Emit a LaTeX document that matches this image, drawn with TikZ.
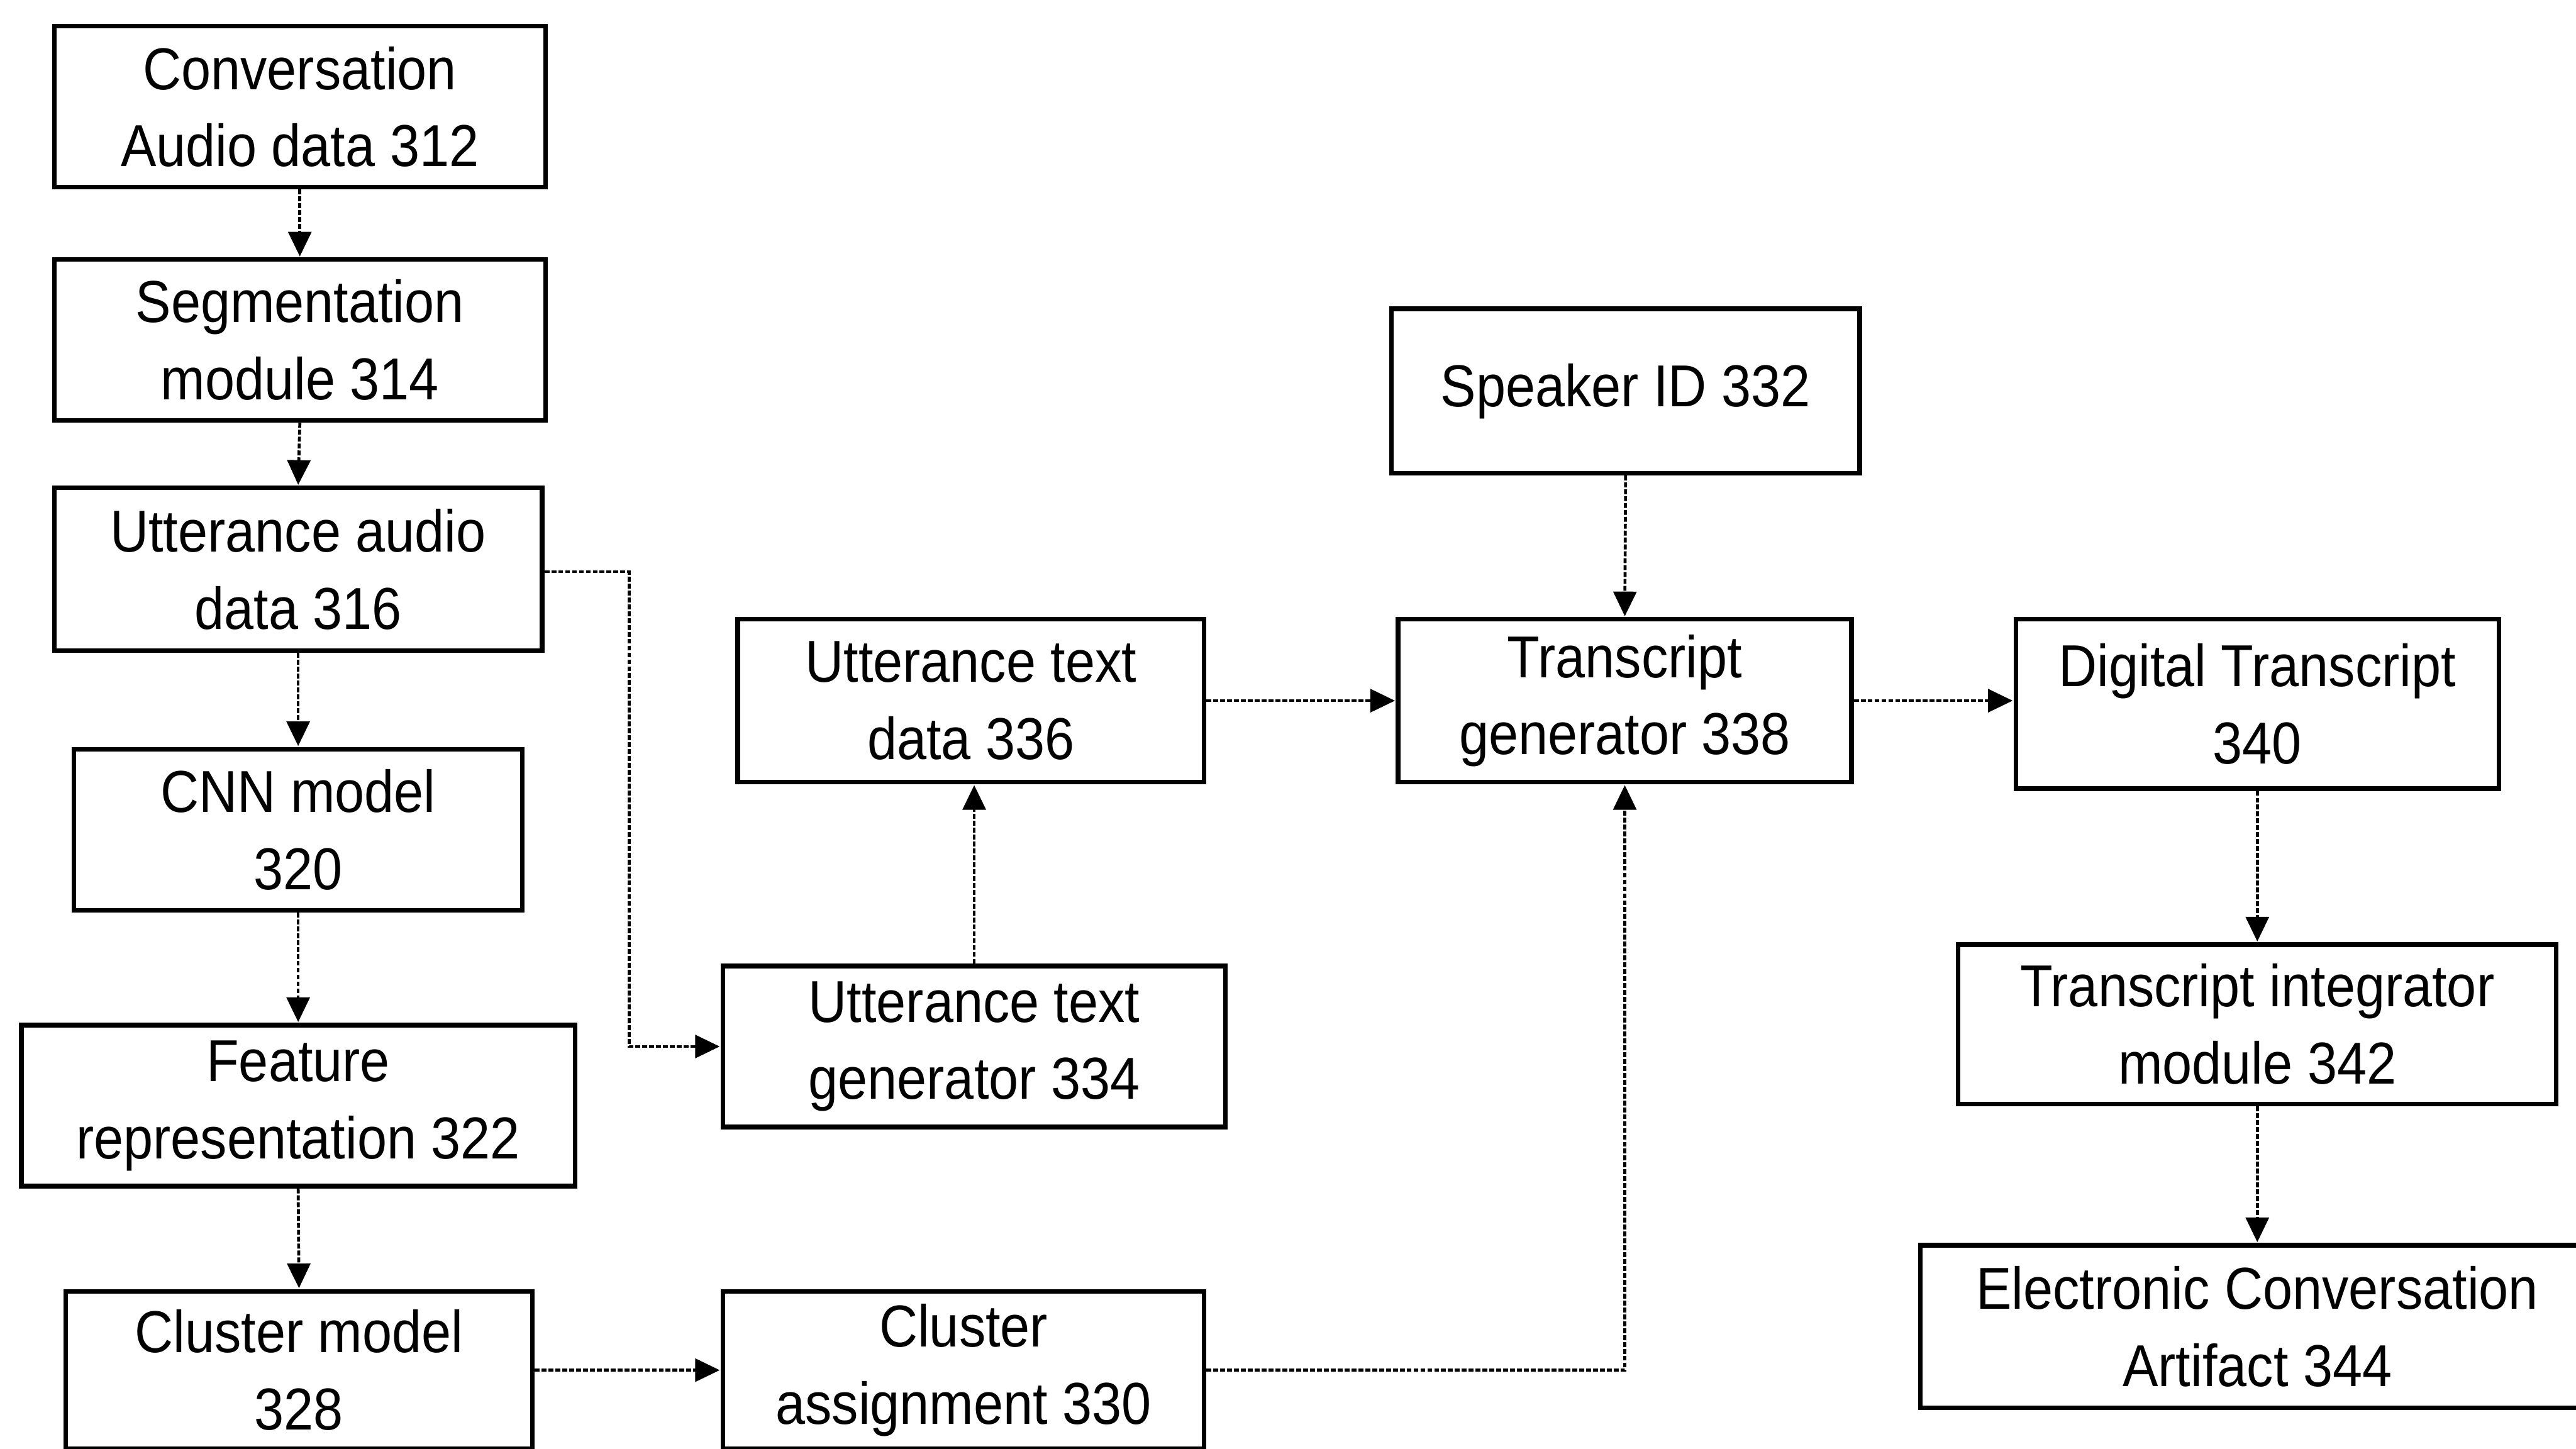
\documentclass[tikz,border=0pt]{standalone}
\usepackage{fontspec}
\setmainfont{Liberation Sans}[FakeStretch=0.9]
\usetikzlibrary{arrows.meta}
\begin{document}
\begin{tikzpicture}[x=1pt,y=-1pt,
  blockbox/.style={draw=black, line width=2.8pt, rectangle, inner sep=0pt,
    align=center, font=\fontsize{36}{47}\selectfont, fill=white},
  flow/.style={draw=black, line width=1.8pt, dash pattern=on 3pt off 1.2pt,
    -{Triangle[length=15pt,width=14pt]}, shorten >=0.5pt}
]
\useasboundingbox (0,0) rectangle (1568,882);
\fill[white] (0,0) rectangle (1568,882);

% left column
\node[blockbox, minimum width=299pt, minimum height=98pt] (cad) at (182.5,65) {Conversation\\Audio data 312};
\node[blockbox, minimum width=299pt, minimum height=98pt] (seg) at (182.5,207) {Segmentation\\module 314};
\node[blockbox, minimum width=297pt, minimum height=99pt] (uad) at (181.5,346.5) {Utterance audio\\data 316};
\node[blockbox, minimum width=273pt, minimum height=98pt] (cnn) at (181.5,505) {CNN model\\320};
\node[blockbox, minimum width=337pt, minimum height=98pt] (feat) at (181.5,673) {Feature\\representation 322};
\node[blockbox, minimum width=284pt, minimum height=96pt] (clm) at (182,834) {Cluster model\\328};

% middle column
\node[blockbox, minimum width=293pt, minimum height=96pt] (cla) at (586.5,834) {Cluster\\assignment 330};
\node[blockbox, minimum width=306pt, minimum height=98pt] (utg) at (593,637) {Utterance text\\generator 334};
\node[blockbox, minimum width=284pt, minimum height=99pt] (utd) at (591,426.5) {Utterance text\\data 336};

% transcript generation
\node[blockbox, minimum width=285pt, minimum height=100pt] (spk) at (989.5,238) {Speaker ID 332};
\node[blockbox, minimum width=276pt, minimum height=99pt] (tgen) at (989,426.5) {Transcript\\generator 338};

% right column
\node[blockbox, minimum width=294pt, minimum height=103pt] (dig) at (1374,428.5) {Digital Transcript\\340};
\node[blockbox, minimum width=364pt, minimum height=97pt] (tint) at (1374,623.5) {Transcript integrator\\module 342};
\node[blockbox, minimum width=410pt, minimum height=99pt] (eca) at (1374,807.5) {Electronic Conversation\\Artifact 344};

% connectors
\coordinate (bendA) at (383,348);
\coordinate (bendB) at (989,834);

\draw[flow] (cad.south) -- (seg.north);
\draw[flow] (seg.south) -- (uad.north);
\draw[flow] (uad.south) -- (cnn.north);
\draw[flow] (cnn.south) -- (feat.north);
\draw[flow] (feat.south) -- (clm.north);
\draw[flow] (uad.east |- bendA) -- (bendA) |- (utg.west);
\draw[flow] (clm.east) -- (cla.west);
\draw[flow] (utg.north) -- (utd.south -| utg.north);
\draw[flow] (utd.east) -- (tgen.west);
\draw[flow] (spk.south) -- (tgen.north);
\draw[flow] (cla.east) -- (bendB) -- (tgen.south);
\draw[flow] (tgen.east) -- (dig.west |- tgen.east);
\draw[flow] (dig.south) -- (tint.north);
\draw[flow] (tint.south) -- (eca.north);
\end{tikzpicture}
\end{document}
